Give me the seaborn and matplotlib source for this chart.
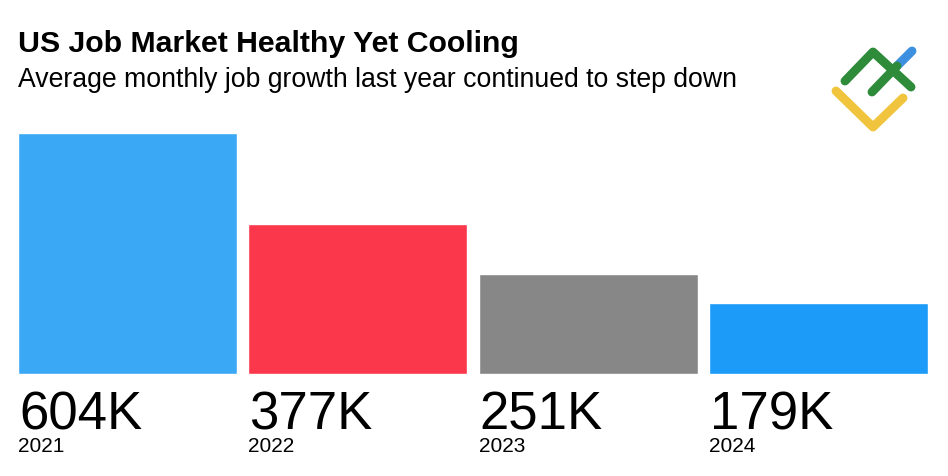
import matplotlib
matplotlib.use("Agg")
import matplotlib.pyplot as plt
import seaborn as sns
import pandas as pd

# data
years = ["2021", "2022", "2023", "2024"]
job_growth = [604, 377, 251, 179]  # thousands, average monthly
value_labels = ["604K", "377K", "251K", "179K"]
bar_colors = ["#3ba8f6", "#fb374b", "#878787", "#1d9bf9"]

TITLE = "US Job Market Healthy Yet Cooling"
SUBTITLE = "Average monthly job growth last year continued to step down"


def draw_logo(fig):
    # small decorative mark in the top right corner, pixel-like coordinates
    lax = fig.add_axes([820 / 948, 1 - 140 / 477, 110 / 948, 110 / 477])
    lax.set_xlim(820, 930)
    lax.set_ylim(140, 30)
    lax.axis("off")
    kw = dict(lw=6.4, solid_capstyle="round", solid_joinstyle="round")
    lax.plot([836, 873, 903], [92, 128, 99], color="#f0c43c", **kw)
    lax.plot([897, 912], [67, 52], color="#3d8fe0", **kw)
    lax.plot([845, 873, 911], [82, 53, 88], color="#2e8b3a", **kw)
    lax.plot([872, 897], [93, 67], color="#2e8b3a", **kw)


def main():
    sns.set_style("white")
    plt.rcParams["font.family"] = ["Liberation Sans", "DejaVu Sans"]

    df = pd.DataFrame({"year": years, "growth": job_growth})

    fig = plt.figure(figsize=(9.48, 4.77), dpi=100)
    ax = fig.add_axes([18 / 948, 1 - 375 / 477, 910 / 948, 241 / 477])

    width = 0.952
    sns.barplot(data=df, x="year", y="growth", hue="year", palette=bar_colors,
                width=width, legend=False, ax=ax, saturation=1)
    ax.set_xlim(-width / 2, len(years) - 1 + width / 2)
    ax.set_ylim(0, max(job_growth))
    ax.axis("off")

    # labels under each bar, left aligned with the bar edge
    trans = ax.get_xaxis_transform()
    for i, (yr, lab) in enumerate(zip(years, value_labels)):
        x0 = i - width / 2
        ax.text(x0 + 0.004, -55 / 241, lab, transform=trans, ha="left",
                va="baseline", fontsize=38, color="black")
        ax.text(x0, -77 / 241, yr, transform=trans, ha="left",
                va="baseline", fontsize=15, color="black")

    fig.text(18 / 948, 1 - 52 / 477, TITLE, ha="left", va="baseline",
             fontsize=21.8, fontweight="bold", color="black")
    fig.text(18 / 948, 1 - 87 / 477, SUBTITLE, ha="left", va="baseline",
             fontsize=19.2, color="black")

    draw_logo(fig)

    fig.savefig("out.png", dpi=100)


if __name__ == "__main__":
    main()
